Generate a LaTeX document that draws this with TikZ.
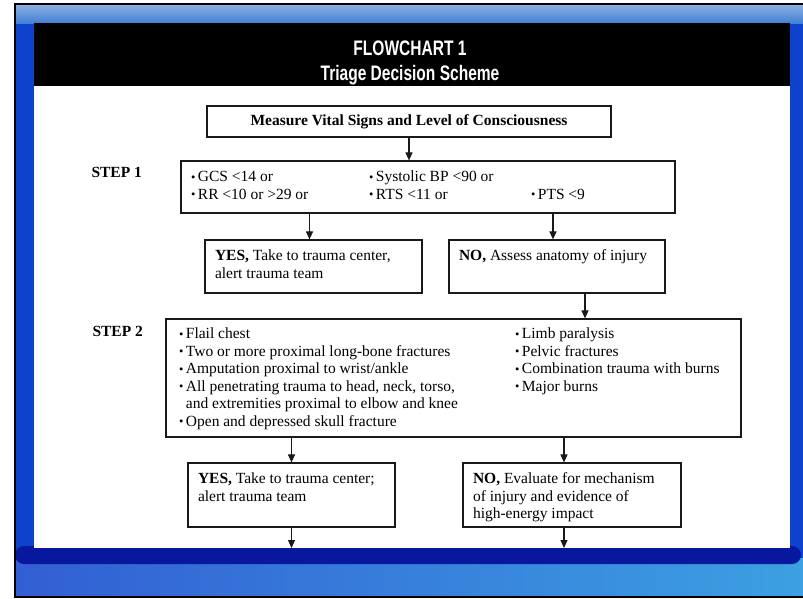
\documentclass[tikz,border=0pt]{standalone}
\usepackage{fontspec}
\usepackage{graphicx}
\setmainfont{Liberation Serif}
\newfontfamily\headfont[FakeStretch=0.74]{Liberation Sans}
\usetikzlibrary{arrows.meta,positioning,calc}
\definecolor{slideblue}{RGB}{14,66,204}
\definecolor{slidetop}{RGB}{66,128,212}
\definecolor{slidenavy}{RGB}{8,24,158}
\definecolor{slidelight}{RGB}{60,160,226}
\definecolor{boxline}{RGB}{25,25,25}
\newcommand{\bodyfont}{\fontsize{15.5}{17.5}\selectfont}
\newcommand{\itm}{\raisebox{0.5pt}{\scalebox{0.8}{\textbullet}}\,}
\newcommand{\boxtext}[4][t]{\begin{minipage}[c][#3][#1]{#2}\raggedright #4\end{minipage}}

\begin{document}
\begin{tikzpicture}[x=1pt,y=-1pt,
    box/.style={draw=boxline,line width=1.2pt,rectangle,inner xsep=10pt,inner ysep=10pt,font=\bodyfont},
    arr/.style={draw=boxline,line width=1.1pt,-{Triangle[length=8pt,width=7pt]}},
    steplbl/.style={anchor=west,font=\bodyfont\bfseries}]
  \useasboundingbox (0,0) rectangle (803,598);
  % slide behind the page
  \fill[white] (0,0) rectangle (803,598);
  \fill[slideblue] (15,4) rectangle (803,597);
  \shade[top color=slidetop!60!white,bottom color=slidetop] (15,4) rectangle (803,23);
  \shade[left color=slideblue!85!white,right color=slidelight] (15,558) rectangle (803,597);
  \fill[slidenavy,rounded corners=9pt] (15,546) rectangle (801,564);
  \draw[black,line width=2pt] (15,598) -- (15,4) -- (803,4);
  \draw[black,line width=2pt] (15,597) -- (803,597);
  % page and header
  \fill[white] (34,23) rectangle (790,548);
  \fill[black] (34,23) rectangle (790,86);
  \coordinate (pagebot) at (34,548);
  \node[anchor=base,text=white,font={\headfont\bfseries\fontsize{21}{24}\selectfont}] (title1) at (410,55) {FLOWCHART 1};
  \node[anchor=base,text=white,font={\headfont\bfseries\fontsize{21}{24}\selectfont}] (title2) at (410,80) {Triage Decision Scheme};

  \node[box,inner sep=0pt,minimum width=404pt,minimum height=31pt,font=\bodyfont\bfseries] (vital) at (409,121.5) {Measure Vital Signs and Level of Consciousness};

  % step 1
  \node[steplbl] (lbl1) at (88,172) {STEP 1};
  \node[box] (crit1) at (428,187) {\boxtext[c]{474pt}{32pt}{\begin{tabular}{@{}p{178pt}@{}p{162pt}@{}l@{}}
      \itm GCS <14 or & \itm Systolic BP <90 or & \\
      \itm RR <10 or >29 or & \itm RTS <11 or & \itm PTS <9
    \end{tabular}}};
  \node[box] (yes1) at (313.5,266.5) {\boxtext{197pt}{33pt}{\textbf{YES,} Take to trauma center,\\alert trauma team}};
  \node[box] (no1) at (557,266.5) {\boxtext{196pt}{33pt}{\textbf{NO,} Assess anatomy of injury}};

  % step 2
  \node[steplbl] (lbl2) at (89,331) {STEP 2};
  \node[box,inner xsep=13pt,inner ysep=9pt] (crit2) at (453.5,378) {\boxtext{549pt}{100pt}{%
      \begin{minipage}[t]{336pt}\raggedright
        \itm Flail chest\\
        \itm Two or more proximal long-bone fractures\\
        \itm Amputation proximal to wrist/ankle\\
        \itm All penetrating trauma to head, neck, torso,\\
        \phantom{\itm}and extremities proximal to elbow and knee\\
        \itm Open and depressed skull fracture
      \end{minipage}%
      \begin{minipage}[t]{213pt}\raggedright
        \itm Limb paralysis\\
        \itm Pelvic fractures\\
        \itm Combination trauma with burns\\
        \itm Major burns
      \end{minipage}}};
  \node[box] (yes2) at (291.5,495) {\boxtext{187pt}{44pt}{\textbf{YES,} Take to trauma center;\\alert trauma team}};
  \node[box] (no2) at (572,495) {\boxtext{198pt}{44pt}{\textbf{NO,} Evaluate for mechanism\\of injury and evidence of\\high-energy impact}};

  % arrows
  \draw[arr] (vital.south) -- (vital.south |- crit1.north);
  \draw[arr] ([xshift=-4pt]yes1.north |- crit1.south) -- ([xshift=-4pt]yes1.north);
  \draw[arr] ([xshift=-4pt]no1.north |- crit1.south) -- ([xshift=-4pt]no1.north);
  \draw[arr] ([xshift=28pt]no1.south) -- ([xshift=28pt]no1.south |- crit2.north);
  \draw[arr] (yes2.north |- crit2.south) -- (yes2.north);
  \draw[arr] ([xshift=-8pt]no2.north |- crit2.south) -- ([xshift=-8pt]no2.north);
  \draw[arr] (yes2.south) -- (yes2.south |- pagebot);
  \draw[arr] ([xshift=-8pt]no2.south) -- ([xshift=-8pt]no2.south |- pagebot);
\end{tikzpicture}
\end{document}
